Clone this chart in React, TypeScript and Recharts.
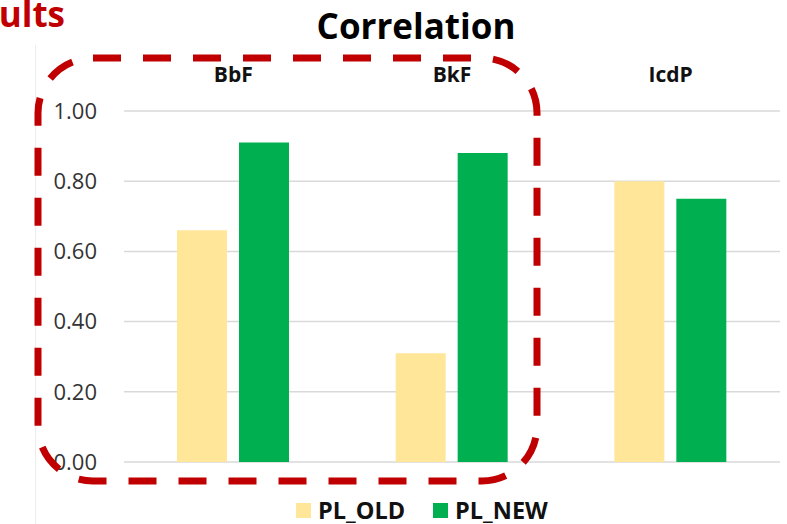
import React from 'react';
import { BarChart, Bar, XAxis, YAxis, CartesianGrid, Legend } from 'recharts';

// Correlation per compound, old vs new parameter list
const categories = ['BbF', 'BkF', 'IcdP'];
const plOld = [0.66, 0.31, 0.8];
const plNew = [0.91, 0.88, 0.75];
const yTicks = [0, 0.2, 0.4, 0.6, 0.8, 1.0];

const seriesNames = ['PL_OLD', 'PL_NEW'];
const seriesColors = ['#FFE699', '#00B050'];

const data = categories.map((name, i) => ({
  name,
  PL_OLD: plOld[i],
  PL_NEW: plNew[i],
}));

const FONT = '"Open Sans", Lato, sans-serif';
const W = 787;
const H = 524;

// Legend follows the series order as declared
const LegendContent = () => (
  <div
    style={{
      display: 'flex',
      justifyContent: 'flex-start',
      alignItems: 'center',
      fontFamily: FONT,
      fontWeight: 700,
      fontSize: 23.5,
      lineHeight: '24px',
      color: '#111',
      height: 24,
      paddingLeft: 296,
    }}
  >
    {seriesNames.map((name, i) => (
      <div
        key={name}
        style={{ display: 'flex', alignItems: 'center', marginLeft: i === 0 ? 0 : 28 }}
      >
        <span
          style={{
            display: 'inline-block',
            width: 15,
            height: 15,
            background: seriesColors[i],
            marginRight: 7,
          }}
        />
        <span>{name}</span>
      </div>
    ))}
  </div>
);

export default function App() {
  return (
    <div style={{ position: 'absolute', left: 0, top: 0, width: W, height: H, background: '#fff' }}>
      <BarChart
        width={W}
        height={H}
        data={data}
        margin={{ top: 71, right: 7, bottom: 38, left: 0 }}
        barGap={12}
        barSize={50}
      >
        <CartesianGrid vertical={false} stroke="#D9D9D9" strokeWidth={1.5} />
        <XAxis
          dataKey="name"
          orientation="top"
          height={40}
          axisLine={false}
          tickLine={false}
          tickSize={0}
          tickMargin={29}
          tick={{ fontFamily: FONT, fontWeight: 700, fontSize: 21, fill: '#111' }}
        />
        <YAxis
          width={124}
          domain={[0, 1]}
          ticks={yTicks}
          axisLine={false}
          tickLine={false}
          tickSize={0}
          tickMargin={27}
          tickFormatter={(v: number) => v.toFixed(2)}
          tick={{ fontFamily: FONT, fontSize: 22, fill: '#333' }}
        />
        <Legend
          verticalAlign="bottom"
          height={24}
          content={<LegendContent />}
          wrapperStyle={{ top: 498, bottom: 'auto', left: 0, width: W }}
        />
        {seriesNames.map((s, i) => (
          <Bar key={s} dataKey={s} fill={seriesColors[i]} isAnimationActive={false} />
        ))}
      </BarChart>
      <svg
        width={W}
        height={H}
        style={{ position: 'absolute', left: 0, top: 0, pointerEvents: 'none' }}
      >
        <line x1={35.5} y1={45} x2={35.5} y2={H} stroke="#EDEDED" strokeWidth={1} />
        <text
          x={65}
          y={27}
          textAnchor="end"
          fontFamily={FONT}
          fontWeight={700}
          fontSize={35}
          fill="#C00000"
        >
          Results
        </text>
        <text
          x={416}
          y={39}
          textAnchor="middle"
          fontFamily={FONT}
          fontWeight={700}
          fontSize={35}
          fill="#000"
        >
          Correlation
        </text>
        <rect
          x={38}
          y={58}
          width={499}
          height={423}
          rx={55}
          ry={55}
          fill="none"
          stroke="#C00000"
          strokeWidth={7}
          strokeDasharray="28 22"
        />
      </svg>
    </div>
  );
}
